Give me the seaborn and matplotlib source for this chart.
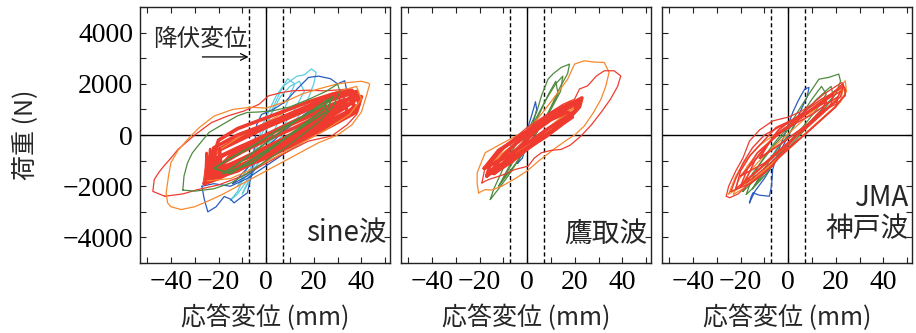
import matplotlib
matplotlib.use("Agg")
import numpy as np
import pandas as pd
import matplotlib.pyplot as plt
import seaborn as sns
from matplotlib.ticker import MultipleLocator

# ---------------- data ----------------
X_TICKS = [-40, -20, 0, 20, 40]
Y_TICKS = [-4000, -2000, 0, 2000, 4000]
YIELD_DISP = 7  # mm
PANEL_TITLES = ["sine波", "鷹取波", "JMA\n神戸波"]
X_LABEL = "応答変位 (mm)"
Y_LABEL = "荷重 (N)"

# ---- sine wave panel loops (x mm, y N) ----
SINE_CYAN_A = [(-15, -2550), (-12, -2200), (-10, -1800), (-7, -1400), (-4, -600), (-2, 300), (1, 900),
               (4, 1500), (7, 1900), (10, 2100), (13, 2300), (16, 2350), (19, 2580), (21, 2450), (20, 2000),
               (18, 1500), (15, 900), (10, 300), (5, -200), (0, -700), (-5, -1300), (-9, -1900),
               (-12, -2300), (-15, -2550)]
SINE_CYAN_B = [(-12, -2000), (-8, -1300), (-3, -200), (2, 800), (6, 1500), (10, 1900), (14, 2100),
               (16, 1700), (12, 1000), (6, 200), (0, -500), (-6, -1300), (-12, -2000)]
SINE_CYAN_C = [(-10, -2300), (-7, -1700), (-4, -900), (0, 200), (3, 1100), (6, 1700), (9, 2200),
               (12, 2000), (9, 1300), (5, 500), (1, -300), (-4, -1200), (-10, -2300)]
SINE_BLUE_A = [(-27, -2000), (-26, -2500), (-24.5, -3000), (-21, -2800), (-17.6, -2400), (-15, -2500),
               (-13.5, -2650), (-10, -2400), (-7.9, -2260), (-6, -1500), (-5, -500), (-4, 400), (-2, 800),
               (3, 1000), (8, 1300), (13, 1800), (17.8, 2250), (22, 2300), (27, 2200), (30, 2000),
               (33, 2120), (33.7, 1800), (32, 1200), (28, 700), (22, 200), (15, -300), (8, -700),
               (0, -1200), (-8, -1700), (-15, -2000), (-22, -1900), (-27, -2000)]
SINE_BLUE_B = [(-14, -1900), (-8, -1300), (0, -500), (8, 200), (16, 800), (24, 1300), (30, 1700),
               (31, 1300), (24, 700), (16, 100), (8, -500), (0, -1000), (-8, -1600), (-14, -1900)]
SINE_GREEN_A = [(-35, -2150), (-34.5, -1600), (-33, -1080), (-31, -700), (-28.7, -430), (-24, 100),
                (-17, 485), (-12, 750), (-8, 880), (-3, 900), (3, 950), (10, 1100), (18, 1400),
                (25, 1700), (30, 1990), (31, 1700), (28, 1100), (22, 500), (15, 0), (8, -500),
                (0, -1000), (-8, -1500), (-14.8, -1870), (-22, -2100), (-30, -2190), (-35, -2150)]
SINE_GREEN_B = [(-22, -1300), (-15, -900), (-5, -400), (5, 200), (15, 700), (25, 1200), (28, 1500),
                (25, 900), (15, 300), (5, -300), (-5, -900), (-15, -1500), (-22, -1300)]
SINE_GREEN_C = [(-18, -1500), (-10, -1000), (0, -300), (10, 400), (20, 1000), (26, 1400), (24, 1000),
                (14, 300), (4, -400), (-6, -1100), (-18, -1500)]
SINE_ORANGE_A = [(-35.7, -2910), (-40, -2800), (-41.4, -2650), (-42, -2260), (-41, -1600), (-40, -1080),
                 (-37, -600), (-33, -170), (-28, 300), (-21.8, 745), (-14, 1000), (-6.5, 1085), (0, 1050),
                 (8, 1300), (15, 1600), (22, 1800), (30, 2000), (34.4, 2050), (40, 2100), (42.8, 2030),
                 (43.5, 1990), (42, 1500), (40, 900), (36, 400), (30, 0), (22, -300), (12, -800),
                 (0, -1400), (-10, -1900), (-18, -2300), (-23, -2520), (-30, -2800), (-35.7, -2910)]
SINE_ORANGE_B = [(-26, -1800), (-25, -1200), (-20, -600), (-10, 0), (0, 500), (10, 1000), (20, 1400),
                 (30, 1700), (38, 1900), (40, 1400), (35, 800), (25, 200), (15, -300), (5, -800),
                 (-5, -1300), (-15, -1700), (-26, -1800)]
SINE_RED_OUTER = [(-42.6, -2390), (-47.6, -2200), (-47, -1740), (-45, -1450), (-43, -1215), (-40, -900),
                  (-37, -560), (-30, 0), (-23, 485), (-16, 750), (-9.3, 940), (-3, 1200), (1, 1530),
                  (6, 1650), (10.8, 1725), (18, 1750), (24.7, 1725), (30, 1760), (33.6, 1790), (37, 1700),
                  (39, 1300), (38, 800), (34, 400), (27.5, -40), (17.8, -235), (10, -600), (0, -1100),
                  (-10, -1600), (-20, -1950), (-28.7, -2130), (-35, -2300), (-42.6, -2390)]
SINE_RED_B1 = [(-25, -1700), (-24, -1000), (-20, -600), (-10, -150), (0, 300), (10, 700), (20, 1100),
               (30, 1500), (38, 1700), (39, 1200), (35, 800), (25, 300), (15, -150), (5, -550),
               (-5, -950), (-15, -1350), (-25, -1700)]
SINE_RED_B2 = [(-24, -1500), (-22, -700), (-15, -300), (-5, 150), (5, 500), (15, 900), (25, 1300),
               (35, 1600), (37, 1100), (30, 600), (20, 150), (10, -300), (0, -750), (-10, -1150),
               (-24, -1500)]
SINE_RED_B3 = [(-25, -1800), (-23, -1100), (-18, -800), (-8, -350), (2, 100), (12, 550), (22, 950),
               (32, 1350), (40, 1500), (38, 900), (28, 400), (18, -50), (8, -450), (-2, -900),
               (-12, -1400), (-25, -1800)]
SINE_RED_B4 = [(-20, -1300), (-15, -800), (-5, -300), (5, 200), (15, 600), (25, 1000), (33, 1300),
               (34, 900), (25, 500), (15, 50), (5, -400), (-5, -800), (-20, -1300)]
SINE_RED_B5 = [(-25, -1600), (-22, -500), (-12, 0), (-2, 350), (8, 750), (18, 1150), (28, 1550),
               (36, 1750), (38, 1400), (32, 1000), (22, 450), (12, 0), (2, -400), (-8, -850),
               (-18, -1300), (-25, -1600)]
SINE_RED_B6 = [(-22, -1700), (-10, -1250), (0, -900), (10, -450), (20, 0), (30, 500), (38, 1000),
               (36, 1300), (26, 800), (16, 300), (6, -200), (-4, -650), (-14, -1100), (-22, -1700)]
SINE_RED_B7 = [(-26, -1900), (-25, -1300), (-21, -900), (-12, -500), (-2, -100), (8, 350), (18, 800),
               (28, 1200), (36, 1450), (37, 1000), (28, 550), (18, 100), (8, -350), (-2, -800),
               (-12, -1300), (-20, -1700), (-26, -1900)]
SINE_RED_B8 = [(-24, -1400), (-20, -200), (-12, 250), (-2, 600), (8, 950), (18, 1300), (28, 1600),
               (34, 1700), (36, 1500), (30, 1100), (20, 650), (10, 200), (0, -200), (-10, -650),
               (-24, -1400)]
SINE_RED_SPIKES = [(-25.5, -1800), (-25, -700), (-24.5, -1650), (-23.5, -550), (-22.5, -1700),
                   (-21.5, -650), (-20.5, -1600), (-19.5, -500), (-18.5, -1500)]

# ---- Takatori wave panel loops ----
TK_BLUE = [(-4, -1100), (-2, -500), (0, 200), (2, 800), (3.5, 1300), (4, 1000), (2, 300), (0, -300),
           (-2, -900), (-4, -1100)]
TK_GREEN_A = [(-15.5, -2520), (-14, -2100), (-13.5, -2000), (-11, -1500), (-7.9, -820), (-4, -300),
              (-2.4, -170), (1, 300), (4, 900), (6, 1530), (8.75, 2180), (11, 2400), (14.3, 2640),
              (17.8, 2770), (17, 2400), (14, 1900), (11, 1300), (8, 700), (4, 100), (0, -400),
              (-4, -1000), (-8, -1600), (-12, -2100), (-15.5, -2520)]
TK_GREEN_B = [(-12, -2000), (-8, -1300), (-4, -600), (0, 0), (4, 700), (8, 1400), (12, 2000),
              (15, 2300), (14, 1700), (10, 1000), (6, 400), (2, -200), (-3, -900), (-8, -1500),
              (-12, -2000)]
TK_GREEN_C = [(-10, -1700), (-5, -900), (0, -100), (5, 800), (9, 1600), (12, 2100), (13, 1600),
              (9, 900), (4, 100), (-1, -600), (-6, -1300), (-10, -1700)]
TK_ORANGE_A = [(-20.4, -2260), (-21, -1900), (-21, -1475), (-19, -1000), (-17.6, -690), (-12, -400),
               (-6, -100), (0, 200), (5, 700), (10, 1300), (14, 1800), (17, 2180), (19.9, 2770),
               (24, 2900), (28, 2850), (32.4, 2835), (34.4, 2445), (33, 1900), (31, 1400), (28, 900),
               (24, 353), (20, 0), (17, -170), (12, -500), (5, -1000), (0, -1400), (-5, -1700),
               (-10.7, -2000), (-15, -2150), (-17.6, -2130), (-20.4, -2260)]
TK_ORANGE_B = [(-16, -1200), (-10, -700), (0, 0), (10, 700), (18, 1300), (20, 1100), (12, 500),
               (3, -200), (-6, -800), (-16, -1200)]
TK_RED_OUTER = [(-19, -1870), (-17.6, -1215), (-12, -700), (-5, -100), (0, 300), (5, 600), (10, 900),
                (15, 1200), (19.9, 1400), (22, 1800), (25.4, 1920), (29, 2300), (32.4, 2510),
                (36.5, 2510), (39.3, 2310), (38, 1900), (35, 1400), (31, 880), (27, 400), (22.6, -40),
                (18, -400), (14.3, -560), (10, -600), (6, -690), (3, -900), (0.4, -1215), (-5.1, -1345),
                (-10, -1550), (-16.25, -1740), (-19, -1870)]
TK_RED_B1 = [(-17, -1600), (-15, -1000), (-10, -500), (-5, -150), (0, 150), (5, 500), (10, 850),
             (15, 1100), (20, 1300), (23, 1450), (22, 1100), (18, 700), (13, 300), (8, -50), (3, -350),
             (-2, -650), (-8, -1000), (-13, -1350), (-17, -1600)]
TK_RED_B2 = [(-15, -1400), (-10, -800), (-5, -350), (0, 0), (5, 350), (10, 700), (16, 1000), (21, 1250),
             (20, 900), (15, 500), (10, 150), (5, -150), (0, -500), (-5, -800), (-10, -1100),
             (-15, -1400)]
TK_RED_B3 = [(-18, -1300), (-12, -600), (-6, -250), (0, 100), (6, 450), (12, 800), (18, 1100),
             (22, 1350), (21, 1000), (14, 550), (8, 200), (2, -200), (-4, -550), (-10, -900),
             (-18, -1300)]
TK_RED_B4 = [(-14, -1500), (-8, -900), (-2, -350), (4, 200), (10, 600), (17, 900), (19, 700),
             (12, 250), (5, -200), (0, -550), (-6, -1000), (-14, -1500)]

# ---- JMA Kobe wave panel loops ----
KB_CYAN = [(-12, -1800), (-8, -1000), (-4, -400), (-6, -900), (-10, -1500), (-12, -1800)]
KB_BLUE = [(-16.25, -2650), (-15.5, -2400), (-14.8, -2260), (-12, -2350), (-7.9, -2390), (-7, -2000),
           (-6.5, -1345), (-4.4, -690), (-2, -100), (0, 400), (2, 900), (4, 1300), (5.3, 1530),
           (7, 1800), (8.75, 1860), (8, 1500), (5, 900), (2, 300), (-2, -400), (-6, -1100),
           (-10, -1700), (-14, -2200), (-16.25, -2650)]
KB_GREEN_A = [(-17.6, -2320), (-16, -1900), (-13, -1300), (-9, -700), (-4, -100), (0, 300), (4, 900),
              (8, 1500), (12.9, 2180), (17, 2250), (21.25, 2380), (22, 2100), (20, 1600), (15, 1000),
              (10, 500), (5, 0), (0, -500), (-5, -1000), (-10, -1600), (-14, -2000), (-17.6, -2320)]
KB_GREEN_B = [(-15, -2100), (-10, -1300), (-5, -600), (0, 0), (5, 700), (10, 1400), (14, 1900),
              (16, 1600), (12, 1000), (6, 300), (0, -300), (-6, -1000), (-11, -1600), (-15, -2100)]
KB_GREEN_C = [(-19, -2200), (-15, -1500), (-10, -900), (-5, -300), (0, 200), (6, 800), (12, 1400),
              (18, 1900), (19, 1500), (13, 900), (7, 300), (1, -300), (-5, -900), (-11, -1500),
              (-19, -2200)]
KB_ORANGE_A = [(-23, -2320), (-21, -1800), (-17, -1200), (-12, -600), (-6, -100), (0, 300), (6, 700),
               (12, 1200), (18, 1600), (22, 1900), (24, 2120), (24.5, 1700), (22, 1300), (16, 800),
               (10, 300), (4, -200), (-2, -700), (-8, -1200), (-14, -1700), (-19, -2100), (-23, -2320)]
KB_ORANGE_B = [(-20, -2000), (-15, -1300), (-9, -700), (-3, -200), (3, 300), (9, 800), (15, 1300),
               (21, 1800), (23, 2000), (21, 1500), (15, 900), (9, 400), (3, -100), (-3, -600),
               (-9, -1100), (-15, -1600), (-20, -2000)]
KB_ORANGE_C = [(-25, -2300), (-22, -1600), (-18, -1000), (-12, -400), (-6, 0), (0, 350), (7, 750),
               (14, 1200), (20, 1700), (23, 1800), (22, 1300), (16, 800), (9, 200), (3, -300),
               (-3, -800), (-10, -1400), (-17, -1900), (-25, -2300)]
KB_RED_OUTER = [(-26, -2390), (-25, -2000), (-22, -1400), (-19, -900), (-16.25, -235), (-12, 200),
                (-6.5, 550), (0, 700), (5, 900), (10, 1200), (15, 1600), (20, 1900), (22.6, 2050),
                (24, 1800), (24, 1530), (20, 1200), (12.9, 880), (8, 400), (3, -100), (-2, -600),
                (-6.5, -1215), (-12, -1600), (-17.6, -2000), (-21, -2300), (-24.6, -2450), (-26, -2390)]
KB_RED_B = [(-22, -2100), (-20, -1400), (-16, -800), (-10, -200), (-5, 300), (2, 600), (8, 1000),
            (14, 1400), (20, 1700), (23, 1900), (22, 1500), (16, 1000), (10, 500), (4, 0), (-2, -500),
            (-8, -1000), (-14, -1500), (-22, -2100)]
KB_RED_C = [(-18, -1800), (-14, -1000), (-9, -400), (-4, 100), (2, 500), (8, 900), (14, 1300),
            (19, 1600), (18, 1200), (12, 700), (6, 200), (0, -300), (-6, -800), (-12, -1300),
            (-18, -1800)]
KB_RED_D = [(-12, -900), (-8, -300), (-4, 200), (0, 500), (6, 800), (12, 1100), (16, 1300), (14, 900),
            (8, 400), (2, 0), (-4, -400), (-12, -900)]
KB_RED_E = [(-20, -1600), (-15, -1100), (-10, -500), (-5, 0), (0, 300), (6, 700), (12, 1100),
            (18, 1500), (22, 1700), (20, 1300), (14, 800), (8, 300), (2, -150), (-4, -600),
            (-10, -1100), (-20, -1600)]
KB_RED_F = [(-24, -2200), (-22, -1700), (-19, -1100), (-15, -500), (-10, 0), (-4, 300), (2, 550),
            (8, 900), (14, 1300), (20, 1750), (23, 2000), (24, 1600), (20, 1100), (14, 600), (8, 100),
            (2, -400), (-4, -900), (-10, -1500), (-16, -1900), (-24, -2200)]
KB_RED_G = [(-20, -2000), (-17, -1300), (-13, -700), (-8, -300), (-3, 100), (3, 450), (10, 800),
            (16, 1200), (21, 1500), (20, 1100), (14, 600), (8, 100), (2, -350), (-4, -800),
            (-10, -1300), (-15, -1700), (-20, -2000)]

# ---------------- style ----------------
COLORS = {"blue": "#2a5bbd", "cyan": "#5fcbe0", "green": "#4f8a3f",
          "orange": "#f7882f", "red": "#ef3b2f"}
THIN, THICK = 0.9, 2.6

PANELS = [
    [("cyan", SINE_CYAN_A, THIN), ("cyan", SINE_CYAN_B, THIN), ("cyan", SINE_CYAN_C, THIN),
     ("blue", SINE_BLUE_A, THIN), ("blue", SINE_BLUE_B, THIN), ("red", SINE_RED_OUTER, THIN),
     ("red", SINE_RED_B6, THICK), ("red", SINE_RED_B7, THICK),
     ("red", SINE_RED_B1, THICK), ("red", SINE_RED_B2, THICK), ("red", SINE_RED_B3, THICK),
     ("orange", SINE_ORANGE_A, THIN), ("orange", SINE_ORANGE_B, THIN),
     ("red", SINE_RED_B4, THICK), ("red", SINE_RED_B5, THICK), ("red", SINE_RED_B8, THICK),
     ("red", SINE_RED_SPIKES, 2.0),
     ("green", SINE_GREEN_A, THIN), ("green", SINE_GREEN_B, 1.3), ("green", SINE_GREEN_C, 1.3)],
    [("blue", TK_BLUE, THIN), ("green", TK_GREEN_A, THIN), ("green", TK_GREEN_B, THIN),
     ("green", TK_GREEN_C, THIN), ("orange", TK_ORANGE_A, THIN), ("orange", TK_ORANGE_B, 1.6),
     ("red", TK_RED_OUTER, THIN), ("red", TK_RED_B1, THICK), ("red", TK_RED_B2, THICK),
     ("red", TK_RED_B3, THICK), ("red", TK_RED_B4, THICK)],
    [("cyan", KB_CYAN, THIN), ("blue", KB_BLUE, THIN), ("green", KB_GREEN_A, THIN),
     ("green", KB_GREEN_B, THIN), ("green", KB_GREEN_C, THIN), ("orange", KB_ORANGE_A, THIN),
     ("orange", KB_ORANGE_B, THIN), ("orange", KB_ORANGE_C, THIN),
     ("red", KB_RED_OUTER, THIN), ("red", KB_RED_B, 1.1), ("red", KB_RED_C, 1.1),
     ("red", KB_RED_D, 1.4), ("red", KB_RED_E, 1.1), ("red", KB_RED_F, 1.0), ("red", KB_RED_G, 1.1)],
]

sns.set_theme(style="ticks")
SERIF = ["Liberation Serif", "DejaVu Serif"]
CJK = ["Noto Sans CJK JP", "DejaVu Sans"]
plt.rcParams["font.family"] = SERIF
plt.rcParams["axes.unicode_minus"] = True


def tick_text(v):
    return ("\u2212" + str(abs(v))) if v < 0 else str(v)


fig, axes = plt.subplots(1, 3, figsize=(9.16, 3.33), dpi=100, sharey=True)
fig.subplots_adjust(left=0.1528, right=0.9956, top=0.979, bottom=0.21, wspace=0.044)

for i, (ax, loops) in enumerate(zip(axes, PANELS)):
    ax.axhline(0, color="black", lw=1.0, zorder=1)
    ax.axvline(0, color="black", lw=1.0, zorder=1)
    for s in (-YIELD_DISP, YIELD_DISP):
        ax.axvline(s, color="black", lw=1.0, ls=(0, (3, 2)), zorder=1)
    for cname, pts, lw in loops:
        df = pd.DataFrame(pts, columns=["x", "y"])
        sns.lineplot(data=df, x="x", y="y", sort=False, estimator=None,
                     color=COLORS[cname], lw=lw, ax=ax, zorder=2)
    ax.set_xlim(-53, 52)
    ax.set_ylim(-5000, 5000)
    ax.xaxis.set_minor_locator(MultipleLocator(10))
    ax.yaxis.set_minor_locator(MultipleLocator(1000))
    ax.set_xticks(X_TICKS, labels=[tick_text(v) for v in X_TICKS],
                  fontfamily=SERIF, fontsize=20)
    if i == 0:
        ax.set_yticks(Y_TICKS, labels=[tick_text(v) for v in Y_TICKS],
                      fontfamily=SERIF, fontsize=20)
    ax.tick_params(which="both", direction="in", top=True, right=True, length=4,
                   width=0.8, color="#222222", pad=5, labelcolor="black")
    if i > 0:
        ax.tick_params(axis="y", labelleft=False)
    for sp in ax.spines.values():
        sp.set_linewidth(1.0)
        sp.set_color("#222222")
    ax.set_xlabel(X_LABEL, family=CJK, fontsize=18, va="center")
    ax.xaxis.set_label_coords(0.5, -0.215)
    if i == 0:
        ax.set_ylabel(Y_LABEL, family=CJK, fontsize=18, va="center")
        ax.yaxis.set_label_coords(-0.46, 0.5)
    else:
        ax.set_ylabel("")
    ypos = 0.195 if "\n" in PANEL_TITLES[i] else 0.115
    ax.text(0.985, ypos, PANEL_TITLES[i], transform=ax.transAxes, ha="right", va="center",
            fontsize=20, family=CJK, linespacing=1.05, multialignment="right")

axes[0].annotate("", xy=(-7.4, 3050), xytext=(-26.8, 3050),
                 arrowprops=dict(arrowstyle="->", lw=0.9, color="black", shrinkA=0, shrinkB=0))
axes[0].text(-27.6, 3750, "降伏変位", ha="center", va="center", fontsize=17, family=CJK)

fig.savefig("out.png", dpi=100)
